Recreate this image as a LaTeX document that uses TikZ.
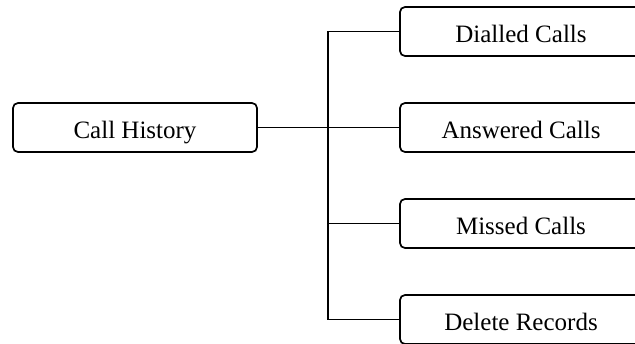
\documentclass[tikz,border=0pt]{standalone}
\usepackage{fontspec}
\setmainfont{Liberation Serif}
\begin{document}
\begin{tikzpicture}[x=1pt,y=-1pt,
  box/.style={draw, line width=1.7pt, rounded corners=5pt, minimum height=49pt, inner sep=0pt, text height=22pt, text depth=0pt, font=\fontsize{25}{30}\selectfont},
  conn/.style={line width=1.7pt}]
\useasboundingbox (0,0) rectangle (635,343);
\clip (0,0) rectangle (635,343);
\node[box, minimum width=244pt] (root) at (135,127.5) {Call History};
\node[box, minimum width=242pt] (d) at (521,31.5) {Dialled Calls};
\node[box, minimum width=242pt] (a) at (521,127.5) {Answered Calls};
\node[box, minimum width=242pt] (m) at (521,223.5) {Missed Calls};
\node[box, minimum width=242pt] (del) at (521,319.5) {Delete Records};
\coordinate (j) at (328,127.5);
\draw[conn] (root.east) -- (a.west);
\draw[conn] (d.west) -- (d.west -| j) -- (del.west -| j) -- (del.west);
\draw[conn] (m.west) -- (m.west -| j);
\end{tikzpicture}
\end{document}
